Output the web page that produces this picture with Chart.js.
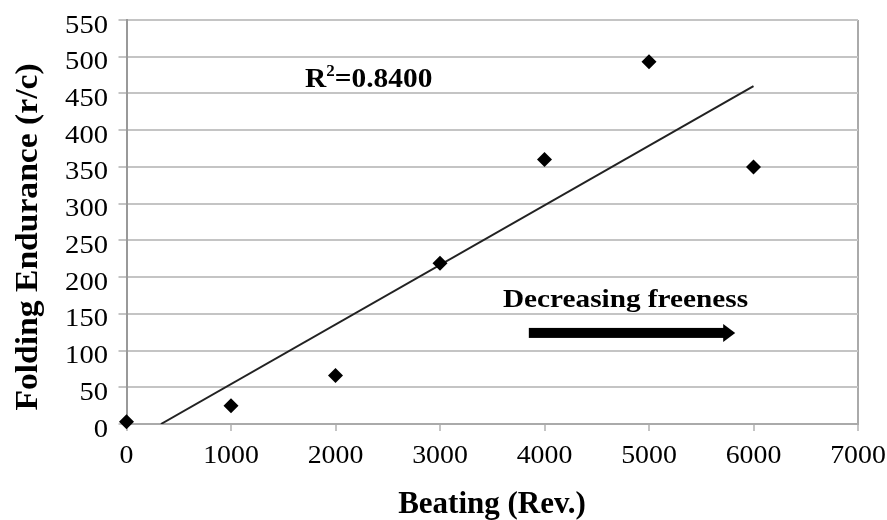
<!DOCTYPE html>
<html>
<head>
<meta charset="utf-8">
<script src="https://cdn.jsdelivr.net/npm/chart.js@4/dist/chart.umd.min.js"></script>
<style>
  html, body { margin: 0; padding: 0; background: #fff; }
  #wrap { width: 887px; height: 520px; }
</style>
</head>
<body>
<div id="wrap"><canvas id="foldChart" width="887" height="520"></canvas></div>
<script>
//------------* Data *------------//
var beating = [0, 1000, 2000, 3000, 4000, 5000, 6000];
var folding = [3, 25, 66, 219, 360, 493, 350];
var xTicks = [0, 1000, 2000, 3000, 4000, 5000, 6000, 7000];
var yTicks = [0, 50, 100, 150, 200, 250, 300, 350, 400, 450, 500, 550];
var r2Label = '0.8400';

// least squares trend line from the points
function trendLine(xs, ys) {
    var n = xs.length, mx = 0, my = 0, sxy = 0, sxx = 0;
    for (var i = 0; i < n; i++) { mx += xs[i]; my += ys[i]; }
    mx /= n; my /= n;
    for (var j = 0; j < n; j++) {
        sxy += (xs[j] - mx) * (ys[j] - my);
        sxx += (xs[j] - mx) * (xs[j] - mx);
    }
    var b = sxy / sxx, a = my - b * mx;
    var x0 = Math.max(xs[0], -a / b);
    var x1 = xs[n - 1];
    return [{ x: x0, y: a + b * x0 }, { x: x1, y: a + b * x1 }];
}

var serif = 'Liberation Serif';

// text with a little horizontal stretch, like the original figure
function stretchText(ctx, text, x, y, font, align, sx, rot) {
    ctx.save();
    ctx.font = font;
    ctx.textAlign = align;
    ctx.textBaseline = 'alphabetic';
    ctx.translate(x, y);
    if (rot) { ctx.rotate(rot); }
    ctx.scale(sx, 1);
    ctx.fillText(text, 0, 0);
    ctx.restore();
}

//------------* Labels, R2 text, arrow *------------//
var notesPlugin = {
    id: 'notes',
    afterDraw: function (chart) {
        var ctx = chart.ctx;
        var xs = chart.scales.x, ys = chart.scales.y;
        ctx.save();
        ctx.fillStyle = '#000';
        var tickFont = '26px ' + serif;

        // tick labels
        xTicks.forEach(function (v) {
            stretchText(ctx, String(v), xs.getPixelForValue(v), 463, tickFont, 'center', 1.07);
        });
        yTicks.forEach(function (v) {
            stretchText(ctx, String(v), 108, ys.getPixelForValue(v) + 12.5, tickFont, 'right', 1.1);
        });

        // axis titles
        stretchText(ctx, 'Beating (Rev.)', 492, 513, 'bold 31px ' + serif, 'center', 1.0);
        stretchText(ctx, 'Folding Endurance (r/c)', 37, 237, 'bold 32px ' + serif, 'center', 1.05, -Math.PI / 2);

        // R2 label
        var rx = 305, ry = 87;
        ctx.font = 'bold 28px ' + serif;
        var wR = ctx.measureText('R').width * 1.05;
        stretchText(ctx, 'R', rx, ry, 'bold 28px ' + serif, 'left', 1.05);
        ctx.font = 'bold 17px ' + serif;
        var w2 = ctx.measureText('2').width;
        stretchText(ctx, '2', rx + wR, ry - 11, 'bold 17px ' + serif, 'left', 1.0);
        stretchText(ctx, '=' + r2Label, rx + wR + w2, ry, 'bold 28px ' + serif, 'left', 1.05);

        // decreasing freeness
        stretchText(ctx, 'Decreasing freeness', 503, 307, 'bold 25px ' + serif, 'left', 1.17);

        // arrow
        var ax0 = xs.getPixelForValue(3850), ax1 = xs.getPixelForValue(5825);
        var ay = ys.getPixelForValue(124);
        ctx.fillRect(ax0, ay - 5, ax1 - ax0 - 11, 10);
        ctx.beginPath();
        ctx.moveTo(ax1 - 12, ay - 9);
        ctx.lineTo(ax1, ay);
        ctx.lineTo(ax1 - 12, ay + 9);
        ctx.closePath();
        ctx.fill();
        ctx.restore();
    }
};

var foldChart = new Chart(document.getElementById('foldChart'), {
    type: 'scatter',
    data: {
        datasets: [{
            label: 'Folding endurance',
            data: beating.map(function (v, i) { return { x: v, y: folding[i] }; }),
            pointStyle: 'rectRot',
            pointRadius: 7.5,
            pointHoverRadius: 7.5,
            backgroundColor: '#000',
            borderColor: '#000',
            borderWidth: 0,
            clip: false
        }, {
            label: 'Trend',
            type: 'line',
            data: trendLine(beating, folding),
            borderColor: '#222',
            borderWidth: 2,
            pointRadius: 0,
            fill: false
        }]
    },
    options: {
        responsive: false,
        animation: false,
        events: [],
        layout: { padding: { left: 0, right: 29, top: 20, bottom: 0 } },
        plugins: {
            legend: { display: false },
            tooltip: { enabled: false }
        },
        scales: {
            x: {
                type: 'linear',
                min: 0,
                max: 7000,
                afterBuildTicks: function (s) { s.ticks = xTicks.map(function (v) { return { value: v }; }); },
                afterFit: function (s) { s.height = 96; },
                border: { display: true, color: '#aaa', width: 2 },
                grid: {
                    color: function (c) { return c.tick && c.tick.value === 7000 ? '#aaa' : 'rgba(0,0,0,0)'; },
                    lineWidth: 2,
                    tickColor: '#c4c4c4',
                    tickLength: 7
                },
                ticks: { display: false }
            },
            y: {
                min: 0,
                max: 550,
                afterBuildTicks: function (s) { s.ticks = yTicks.map(function (v) { return { value: v }; }); },
                afterFit: function (s) { s.width = 126.5; },
                border: { display: true, color: '#999', width: 2 },
                grid: {
                    color: '#c4c4c4',
                    lineWidth: 2,
                    tickColor: '#c4c4c4',
                    tickLength: 8
                },
                ticks: { display: false }
            }
        }
    },
    plugins: [notesPlugin]
});
</script>
</body>
</html>
